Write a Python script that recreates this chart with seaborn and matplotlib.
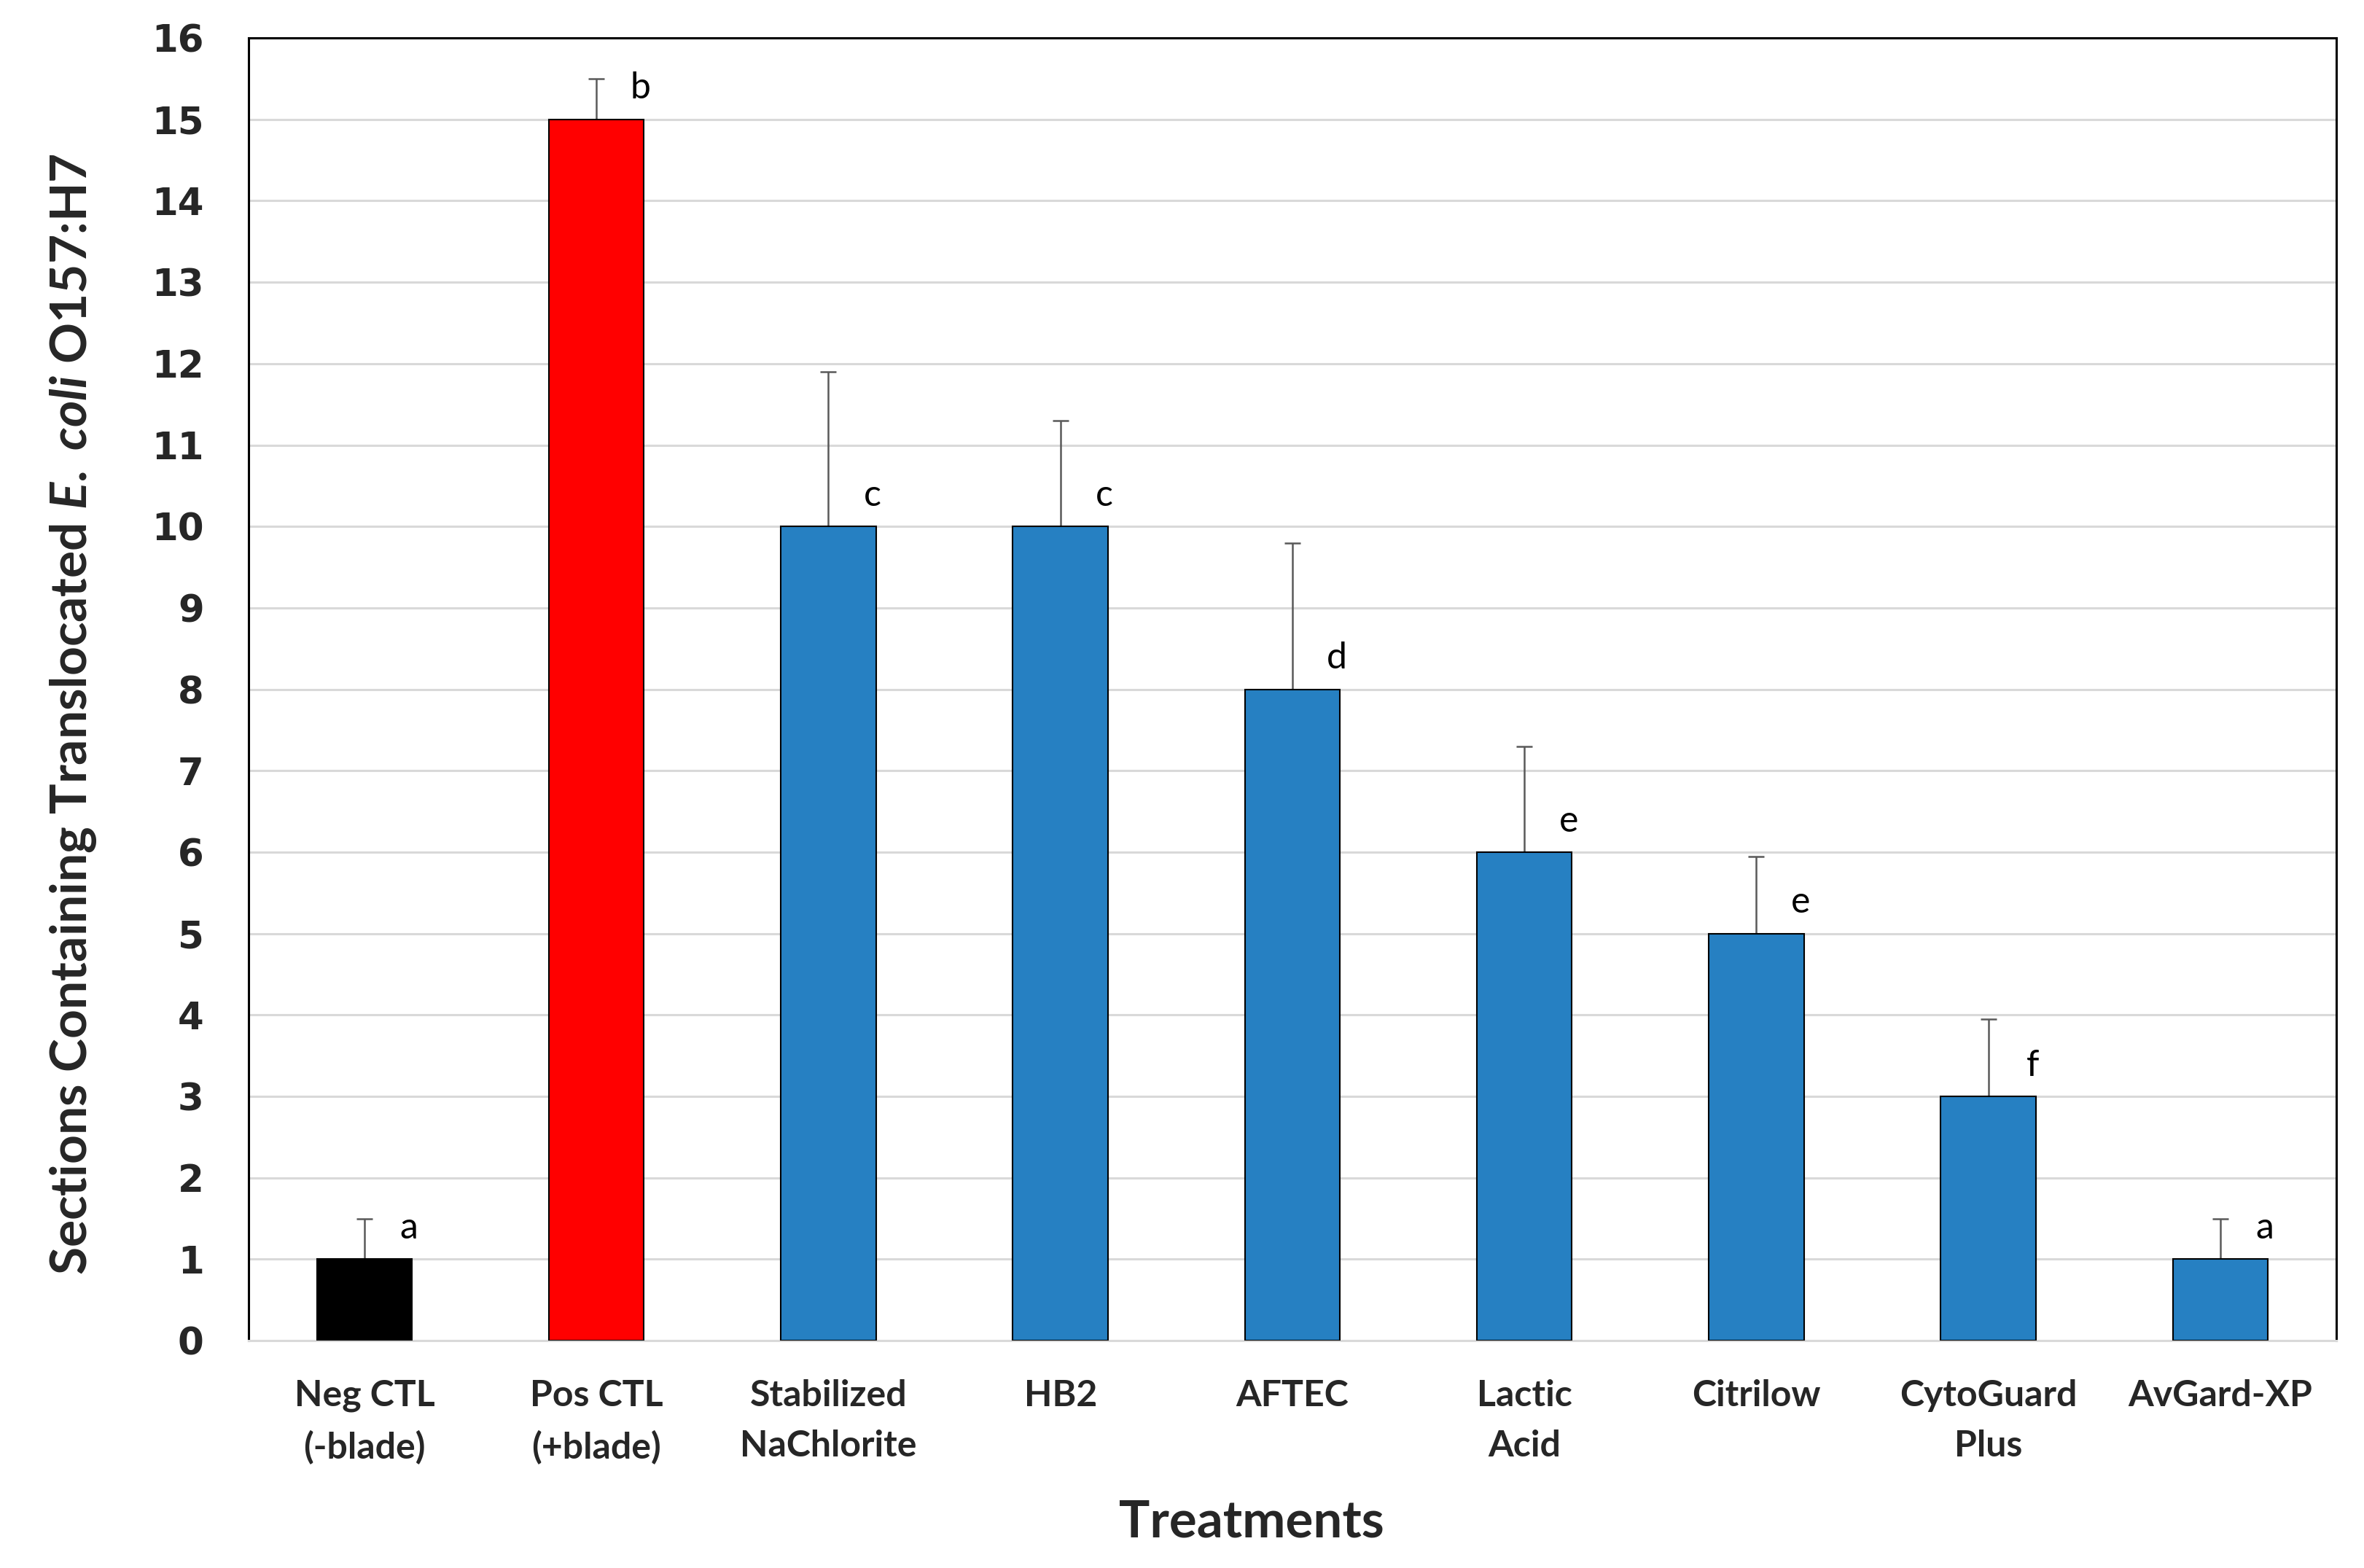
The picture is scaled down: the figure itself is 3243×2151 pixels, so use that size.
import numpy as np
import pandas as pd
import matplotlib
matplotlib.use("Agg")
import matplotlib.pyplot as plt
import seaborn as sns

treatments = ["Neg CTL\n(-blade)", "Pos CTL\n(+blade)", "Stabilized\nNaChlorite", "HB2",
              "AFTEC", "Lactic\nAcid", "Citrilow", "CytoGuard\nPlus", "AvGard-XP"]
sections = [1, 15, 10, 10, 8, 6, 5, 3, 1]
upper_err = [0.5, 0.5, 1.9, 1.3, 1.8, 1.3, 0.95, 0.95, 0.5]
letters = ["a", "b", "c", "c", "d", "e", "e", "f", "a"]
bar_colors = ["#000000", "#ff0000", "#2680c2", "#2680c2", "#2680c2",
              "#2680c2", "#2680c2", "#2680c2", "#2680c2"]

sns.set_style("white")
plt.rcParams["font.family"] = ["Lato", "DejaVu Sans"]
plt.rcParams["mathtext.fontset"] = "custom"
plt.rcParams["mathtext.it"] = "Lato:bold:italic"
plt.rcParams["mathtext.rm"] = "Lato:bold"

df = pd.DataFrame({"treatment": treatments, "sections": sections})

fig = plt.figure(figsize=(32.43, 21.51), dpi=100)
ax = fig.add_axes([0.1051, 0.1450, 0.8832, 0.8308])

sns.barplot(data=df, x="treatment", y="sections", hue="treatment", palette=bar_colors,
            legend=False, width=0.41, edgecolor="black", linewidth=1.5, saturation=1,
            errorbar=None, ax=ax, zorder=3)

x = np.arange(len(treatments))
ax.errorbar(x, sections, yerr=[np.zeros(len(sections)), upper_err], fmt="none",
            ecolor="#595959", elinewidth=1.8, capsize=8, capthick=1.8, zorder=2)

for xi, val, err, lab in zip(x, sections, upper_err, letters):
    ax.text(xi + 0.19, val + 0.38, lab, ha="center", va="center", fontsize=36, color="black")

ax.set_xlim(-0.5, 8.5)
ax.set_ylim(0, 16)
ax.set_yticks(range(0, 17))
ax.set_yticklabels([str(v) for v in range(0, 17)], fontsize=37, fontweight="bold",
                   family="DejaVu Sans")
ax.set_xticks(x)
ax.set_xticklabels(treatments, fontsize=36, fontweight="bold", linespacing=1.65)
ax.tick_params(axis="y", length=0, pad=44)
ax.tick_params(axis="x", length=0, pad=38)

ax.yaxis.grid(True, color="#d9d9d9", linewidth=2.2, zorder=0)
ax.set_axisbelow(True)
for side in ["left", "top", "right"]:
    ax.spines[side].set_color("black")
    ax.spines[side].set_linewidth(2.2)
ax.spines["bottom"].set_color("#d9d9d9")
ax.spines["bottom"].set_linewidth(2.2)

ax.set_xlabel("Treatments", fontsize=51, fontweight="bold")
ax.xaxis.set_label_coords(0.4804, -0.121)
ax.set_ylabel(r"Sections Containing Translocated $\mathit{E.}$ $\mathit{coli}$ O157:H7",
              fontsize=50, fontweight="bold")
ax.yaxis.set_label_coords(-0.072, 0.481)

fig.savefig("out.png", dpi=100, facecolor="white")
